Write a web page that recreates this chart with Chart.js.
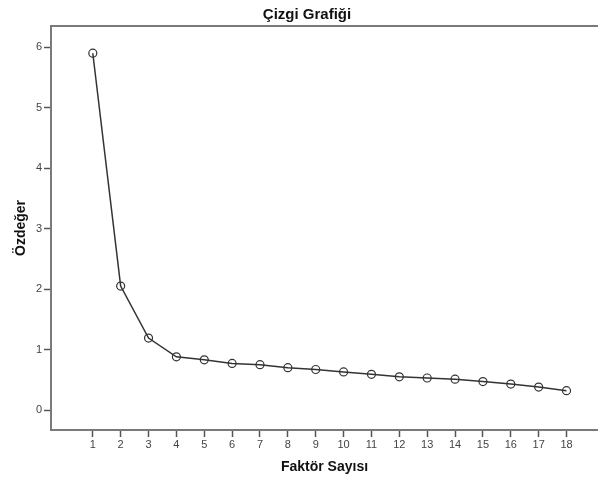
<!DOCTYPE html>
<html>
<head>
<meta charset="utf-8">
<script src="https://cdn.jsdelivr.net/npm/chart.js@4"></script>
<style>
html, body { margin: 0; padding: 0; background: #fff; }
#wrap { width: 598px; height: 480px; }
</style>
</head>
<body>
<div id="wrap"><canvas id="chartCanvas" width="598" height="480"></canvas></div>
<script>
// factor numbers and eigenvalues
const factors = [1, 2, 3, 4, 5, 6, 7, 8, 9, 10, 11, 12, 13, 14, 15, 16, 17, 18];
const eigenvalues = [5.90, 2.05, 1.19, 0.88, 0.83, 0.77, 0.75, 0.70, 0.67, 0.63, 0.59, 0.55, 0.53, 0.51, 0.47, 0.43, 0.38, 0.32];
const yTicks = [0, 1, 2, 3, 4, 5, 6];

const titleText = "Çizgi Grafiği";
const xTitle = "Faktör Sayısı";
const yTitle = "Özdeğer";

const axisColor = "#7a7a7a";
const font = "'Liberation Sans', Arial, sans-serif";

// top frame line of the plot area
const topLine = {
    id: "topLine",
    afterDraw(c) {
        const a = c.chartArea;
        const ctx = c.ctx;
        ctx.save();
        ctx.strokeStyle = axisColor;
        ctx.lineWidth = 2;
        ctx.beginPath();
        ctx.moveTo(a.left - 1, a.top);
        ctx.lineTo(a.right, a.top);
        ctx.stroke();
        ctx.restore();
    }
};

const points = factors.map((f, i) => ({ x: f, y: eigenvalues[i] }));

new Chart(document.getElementById("chartCanvas"), {
    type: "line",
    data: {
        datasets: [{
            data: points,
            borderColor: "#333",
            borderWidth: 1.5,
            pointRadius: 4,
            pointBorderWidth: 1.2,
            pointBorderColor: "#333",
            pointBackgroundColor: "rgba(255,255,255,0)",
            tension: 0
        }]
    },
    options: {
        responsive: false,
        animation: false,
        layout: { autoPadding: false, padding: { left: 16, right: 0, top: 0, bottom: 0 } },
        plugins: {
            legend: { display: false },
            tooltip: { enabled: false },
            title: {
                display: true,
                text: titleText,
                color: "#111",
                font: { family: font, size: 15, weight: "bold", lineHeight: 1.2 },
                padding: { top: 6, bottom: 2 }
            }
        },
        scales: {
            x: {
                type: "linear",
                min: -0.5,
                max: 19.13,
                afterBuildTicks: s => { s.ticks = factors.map(v => ({ value: v })); },
                afterFit: s => { s.height = 50; },
                grid: { drawOnChartArea: false, drawTicks: true, tickLength: 7, color: "#555", tickWidth: 1.5 },
                border: { display: true, color: axisColor, width: 2 },
                ticks: { color: "#444", font: { family: font, size: 11 }, padding: 1, maxRotation: 0, autoSkip: false },
                title: { display: true, text: xTitle, color: "#111", font: { family: font, size: 14, weight: "bold" }, padding: { top: 0, bottom: 4 } }
            },
            y: {
                type: "linear",
                min: -0.33,
                max: 6.35,
                afterBuildTicks: s => { s.ticks = yTicks.map(v => ({ value: v })); },
                afterFit: s => { s.width = 35; },
                grid: { drawOnChartArea: false, drawTicks: true, tickLength: 7, color: "#555", tickWidth: 1.5 },
                border: { display: true, color: axisColor, width: 2 },
                ticks: { color: "#444", font: { family: font, size: 11 }, padding: 2 },
                title: { display: true, text: yTitle, color: "#111", font: { family: font, size: 14, weight: "bold", lineHeight: 1 }, padding: { top: -2, bottom: 0 } }
            }
        }
    },
    plugins: [topLine]
});
</script>
</body>
</html>
